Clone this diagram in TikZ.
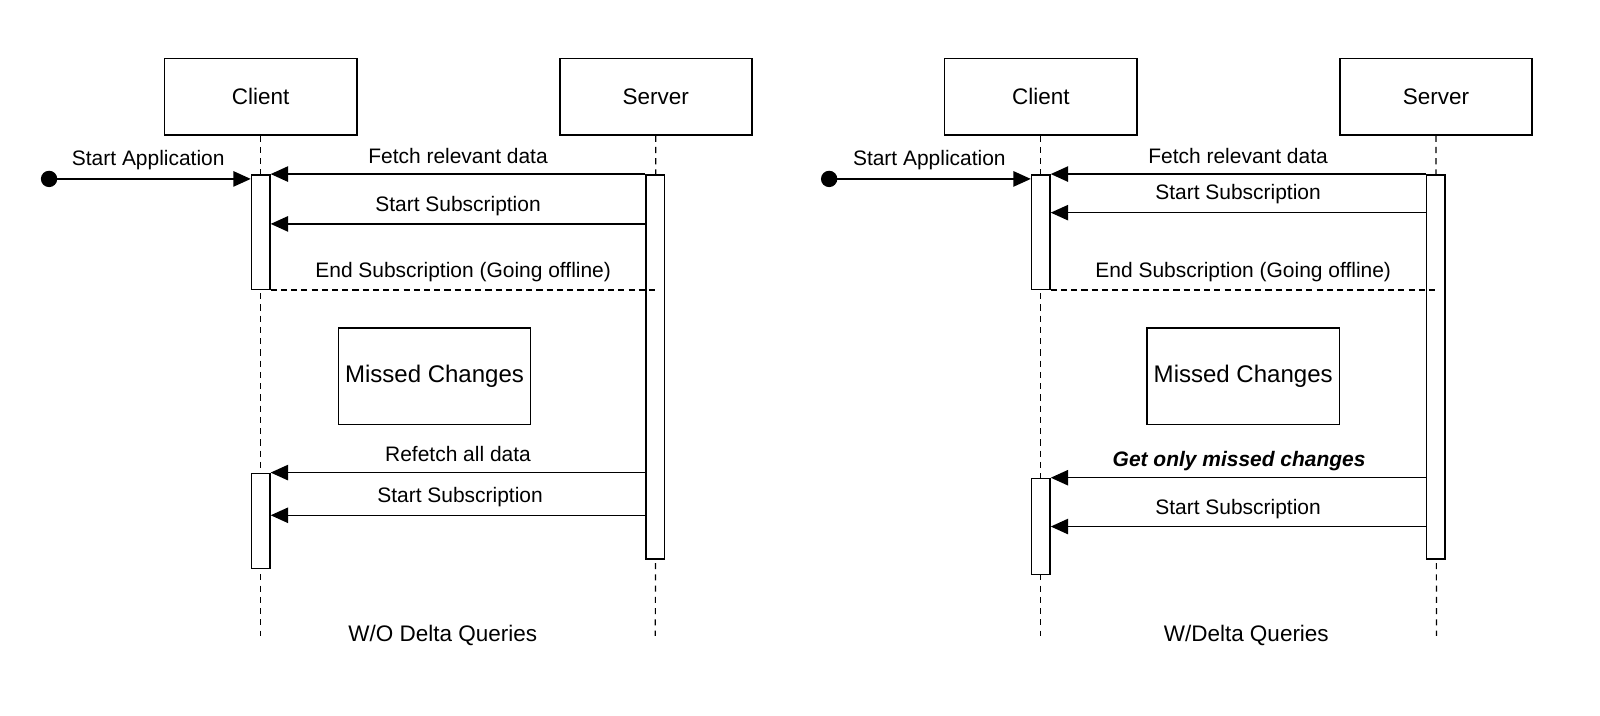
\documentclass[tikz,border=0pt]{standalone}
\usepackage{fontspec}
\setmainfont{Liberation Sans}
\usetikzlibrary{arrows.meta}
\begin{document}
\begin{tikzpicture}[x=1pt,y=-1pt,
  actor/.style={draw, line width=1.5pt, minimum width=188pt, minimum height=75pt, inner sep=0pt, font=\fontsize{22}{26}\selectfont},
  act/.style={draw, line width=1.5pt, fill=white, minimum width=18pt, inner sep=0pt},
  life/.style={line width=1.2pt, dash pattern=on 6pt off 5pt},
  msg/.style={line width=1.5pt, -{Triangle[length=17pt,width=15pt]}},
  retline/.style={line width=1.2pt, dash pattern=on 6pt off 4pt},
  lbl/.style={font=\fontsize{20.5}{24}\selectfont, inner sep=0pt},
  note/.style={draw, line width=1.5pt, minimum width=188pt, minimum height=94pt, inner sep=0pt, font=\fontsize{23.5}{28}\selectfont},
  captionlbl/.style={font=\fontsize{22}{26}\selectfont, inner sep=0pt},
  startdot/.style={circle, fill, minimum size=16pt, inner sep=0pt}
]
\useasboundingbox (0,0) rectangle (1565,699.4);

% ---------- left diagram ----------
\node[actor] (c1) at (255,94.5) {Client};
\node[actor] (s1) at (641.5,94.5) {Server};
\coordinate (c1end) at (255,622);
\coordinate (s1end) at (641,622);
\draw[life] (c1.south) -- (c1end);
\draw[life] (s1.south) -- (s1end);
\node[act, minimum height=112pt] (ca1) at (255,227) {};
\node[act, minimum height=376pt] (sa1) at (641,359) {};
\node[act, minimum height=93pt] (cb1) at (255,509.5) {};
\node[startdot] (d1) at (48,175) {};
\draw[msg] (d1.center) -- (ca1.west |- d1);
\node[lbl] (l1a) at (145,157) {Start Application};
\draw[msg] (sa1.north west) -- (ca1.north east);
\node[lbl] (l1b) at (448,153) {Fetch relevant data};
\draw[msg] (sa1.west |- 0,219) -- (ca1.east |- 0,219);
\node[lbl] (l1c) at (448,202) {Start Subscription};
\draw[retline] (ca1.south east) -- (s1.south |- ca1.south);
\node[lbl] (l1d) at (453,266) {End Subscription (Going offline)};
\node[note] (m1) at (425,368) {Missed Changes};
\draw[msg] (sa1.west |- cb1.north) -- (cb1.north east);
\node[lbl] (l1e) at (448,444) {Refetch all data};
\draw[msg] (sa1.west |- 0,504) -- (cb1.east |- 0,504);
\node[lbl] (l1f) at (450,486) {Start Subscription};
\node[captionlbl] (t1) at (433,622) {W/O Delta Queries};

% ---------- right diagram ----------
\node[actor] (c2) at (1018,94.5) {Client};
\node[actor] (s2) at (1404.5,94.5) {Server};
\coordinate (c2end) at (1018,622);
\coordinate (s2end) at (1405,622);
\draw[life] (c2.south) -- (c2end);
\draw[life] (s2.south) -- (s2end);
\node[act, minimum height=112pt] (ca2) at (1018,227) {};
\node[act, minimum height=376pt] (sa2) at (1404.5,359) {};
\node[act, minimum height=94pt] (cb2) at (1018,515) {};
\node[startdot] (d2) at (811,175) {};
\draw[msg] (d2.center) -- (ca2.west |- d2);
\node[lbl] (l2a) at (909,157) {Start Application};
\draw[msg] (sa2.north west) -- (ca2.north east);
\node[lbl] (l2b) at (1211,153) {Fetch relevant data};
\draw[msg] (sa2.west |- 0,208) -- (ca2.east |- 0,208);
\node[lbl] (l2c) at (1211,190) {Start Subscription};
\draw[retline] (ca2.south east) -- (s2.south |- ca2.south);
\node[lbl] (l2d) at (1216,266) {End Subscription (Going offline)};
\node[note] (m2) at (1216,368) {Missed Changes};
\draw[msg] (sa2.west |- cb2.north) -- (cb2.north east);
\node[lbl, font=\fontsize{20.5}{24}\selectfont\bfseries\itshape] (l2e) at (1212,451) {Get only missed changes};
\draw[msg] (sa2.west |- 0,515) -- (cb2.east |- 0,515);
\node[lbl] (l2f) at (1211,498) {Start Subscription};
\node[captionlbl] (t2) at (1219,622) {W/Delta Queries};
\end{tikzpicture}
\end{document}
